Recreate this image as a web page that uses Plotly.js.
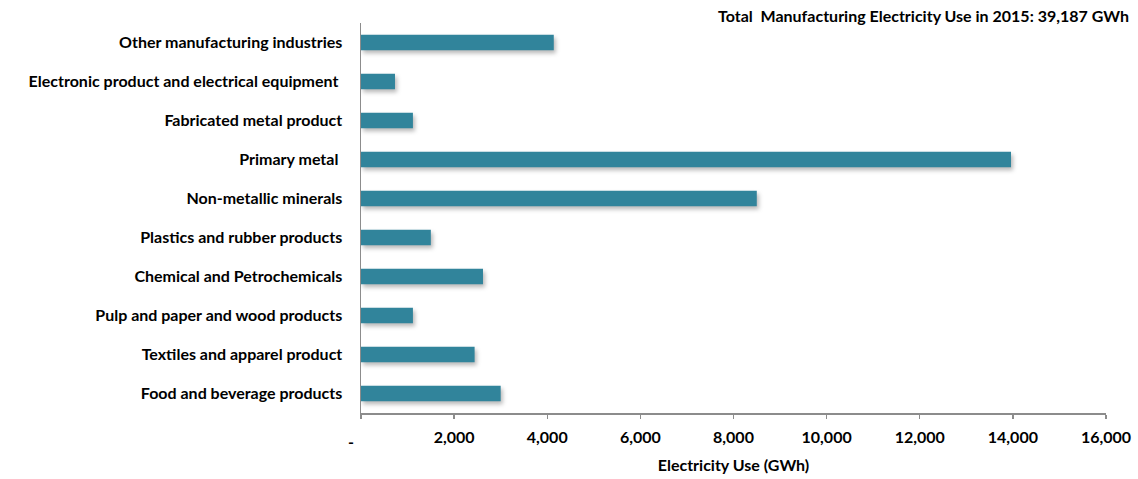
<!DOCTYPE html>
<html>
<head>
<meta charset="utf-8">
<script src="https://cdn.plot.ly/plotly-3.0.1.min.js"></script>
<style>
  html, body { margin: 0; padding: 0; background: #fff; }
  #chart { width: 1138px; height: 479px; }
  .bars .point path { filter: drop-shadow(2px 3px 2px rgba(0,0,0,0.28)); }
</style>
</head>
<body>
<div id="chart"></div>
<script>
// Manufacturing electricity use by sub-sector, 2015 (GWh), listed top to bottom
const sectors = [
  "Other manufacturing industries",
  "Electronic product and electrical equipment\u00a0",
  "Fabricated metal product",
  "Primary metal\u00a0",
  "Non-metallic minerals",
  "Plastics and rubber products",
  "Chemical and Petrochemicals",
  "Pulp and paper and wood products",
  "Textiles and apparel product",
  "Food and beverage products"
];
const electricityGWh = [4140, 730, 1115, 13960, 8500, 1500, 2620, 1115, 2440, 3000];

const xTickVals = [0, 2000, 4000, 6000, 8000, 10000, 12000, 14000, 16000];
const xTickText = ["", "2,000", "4,000", "6,000", "8,000", "10,000", "12,000", "14,000", "16,000"];

const chartTitle = "Total  Manufacturing Electricity Use in 2015: 39,187 GWh";
const xTitle = "Electricity Use (GWh)";

const font = "Lato, 'Open Sans', sans-serif";
const fs = 16;

const trace = {
  type: "bar",
  orientation: "h",
  y: sectors,
  x: electricityGWh,
  width: 0.4,
  marker: { color: "#31849b", line: { width: 0 } },
  hoverinfo: "x+y"
};

const layout = {
  width: 1138,
  height: 479,
  margin: { l: 361, r: 32, t: 23, b: 66 },
  paper_bgcolor: "#ffffff",
  plot_bgcolor: "#ffffff",
  showlegend: false,
  font: { family: font, color: "#000", size: fs },
  xaxis: {
    range: [0, 16000],
    tickvals: xTickVals,
    ticktext: xTickText.map(t => t ? "<b>" + t + "</b>" : t),
    ticks: "outside",
    ticklen: 4,
    tickcolor: "#8c8c8c",
    tickwidth: 1.3,
    showline: true,
    linecolor: "#8c8c8c",
    linewidth: 1.5,
    showgrid: false,
    zeroline: false,
    ticklabelstandoff: 5,
    tickfont: { family: font, size: fs, color: "#000" },
    title: {
      text: "<b>" + xTitle + "</b>",
      font: { family: font, size: fs, color: "#000" },
      standoff: 15
    },
    fixedrange: true
  },
  yaxis: {
    type: "category",
    autorange: "reversed",
    showline: true,
    linecolor: "#8c8c8c",
    linewidth: 1.5,
    ticks: "",
    showgrid: false,
    zeroline: false,
    ticklabelstandoff: 14,
    tickfont: { family: font, size: fs, color: "#000" },
    tickvals: sectors,
    ticktext: sectors.map(s => "<b>" + s + "</b>"),
    fixedrange: true
  },
  annotations: [
    {
      // chart heading, right-aligned at the top
      text: "<b>" + chartTitle + "</b>",
      xref: "paper", x: 1.0336, xanchor: "right",
      yref: "paper", y: 1.018, yanchor: "middle",
      showarrow: false,
      font: { family: font, size: fs, color: "#000" }
    },
    {
      // accounting-style dash for the zero tick
      text: "<b>-</b>",
      xref: "x", x: 0, xshift: -10, xanchor: "center",
      yref: "paper", y: 0, yshift: -28, yanchor: "middle",
      showarrow: false,
      font: { family: font, size: fs, color: "#000" }
    }
  ]
};

Plotly.newPlot("chart", [trace], layout, { displayModeBar: false, staticPlot: true });
</script>
</body>
</html>
